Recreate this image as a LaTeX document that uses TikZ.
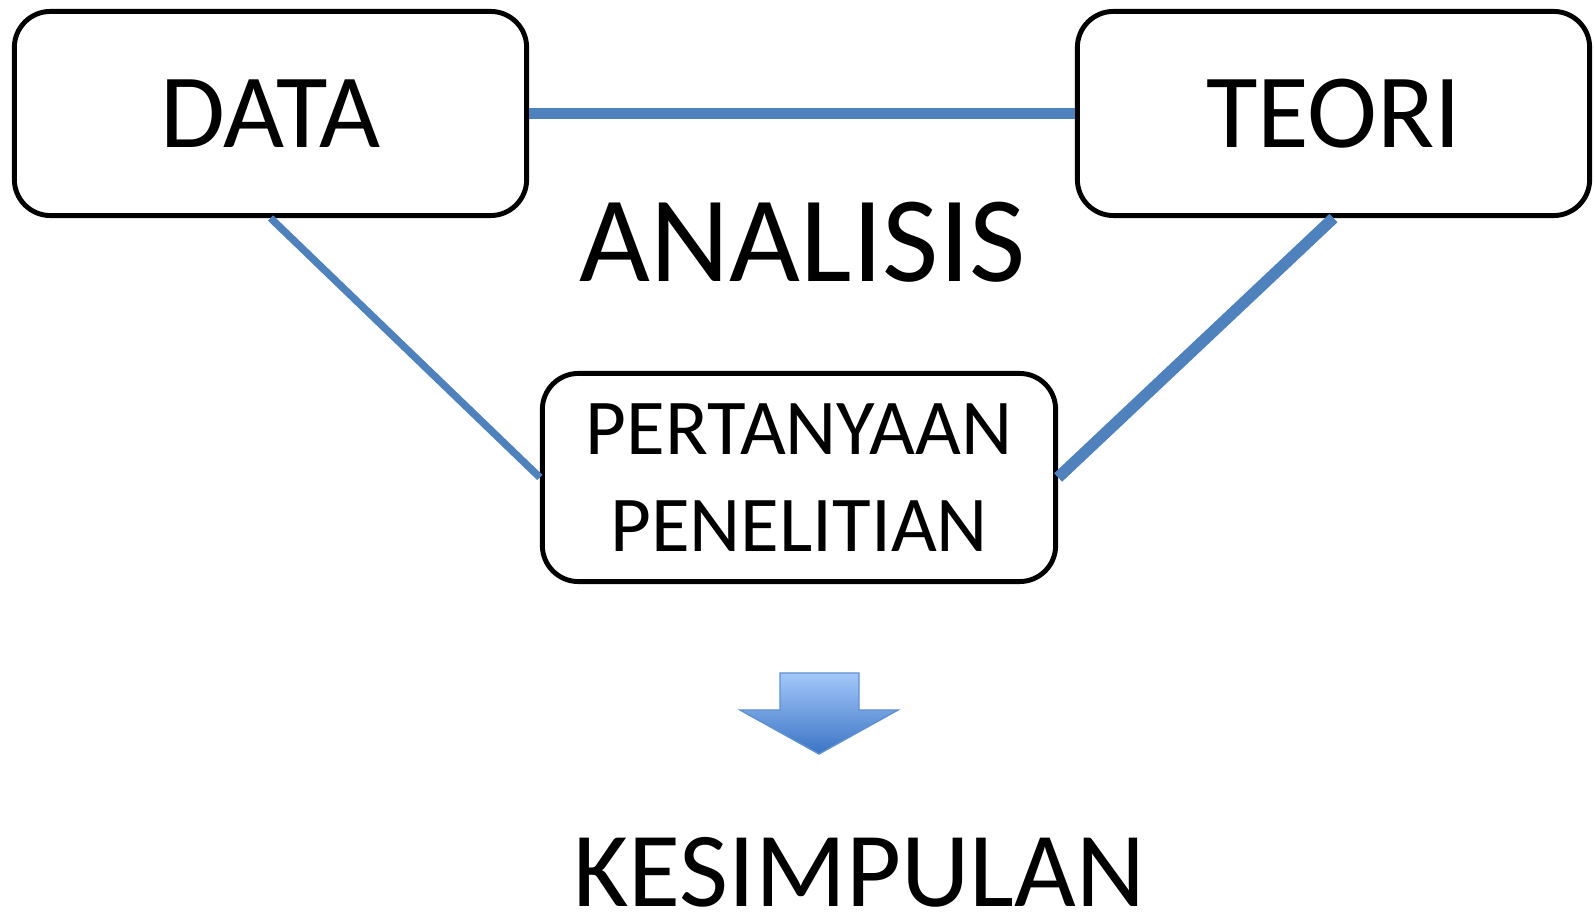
\documentclass[tikz,border=0pt]{standalone}
\usepackage{fontspec}
\setmainfont{Carlito}
\usepackage{tikz}

\definecolor{linkblue}{HTML}{4F81BD}
\definecolor{arrowtop}{HTML}{A3C8FA}
\definecolor{arrowbot}{HTML}{3A74C4}

\begin{document}
\begin{tikzpicture}[x=0.01cm, y=-0.01cm,
	box/.style={shape=rectangle, draw=black, line width=1.4pt, rounded corners=0.36cm, align=center},
	link/.style={draw=linkblue, line width=3.3pt}]
	\useasboundingbox (0, 0) rectangle (1594, 913);
	
	\node[box, minimum width=5.12cm, minimum height=2.04cm, font=\fontsize{30}{36}\selectfont] (data) at (270.5, 113.5) {DATA};
	\node[box, minimum width=5.12cm, minimum height=2.04cm, font=\fontsize{30}{36}\selectfont] (teori) at (1333.5, 113.5) {TEORI};
	\node[box, minimum width=5.13cm, minimum height=2.08cm, font=\fontsize{22.5}{27.5}\selectfont] (tanya) at (799, 477.5) {PERTANYAAN\\PENELITIAN};
	\node[anchor=base, font=\fontsize{34.8}{40}\selectfont] (analisis) at (803, 282) {ANALISIS};
	\node[anchor=base, inner sep=0pt, text depth=0pt, font=\fontsize{30.3}{34}\selectfont] (simpul) at (859, 906) {KESIMPULAN};
	
	\path[link] (data) edge (teori);
	\path[link, line width=2.1pt] (data.south) edge (tanya.west);
	\path[link] (teori.south) edge (tanya.east);
	
	% block arrow
	\shade[top color=arrowtop, bottom color=arrowbot, draw=arrowbot!80, line width=0.4pt]
		(780, 673) -- (859, 673) -- (859, 710) -- (898, 710) -- (819, 754) -- (740, 710) -- (780, 710) -- cycle;

\end{tikzpicture}
\end{document}
